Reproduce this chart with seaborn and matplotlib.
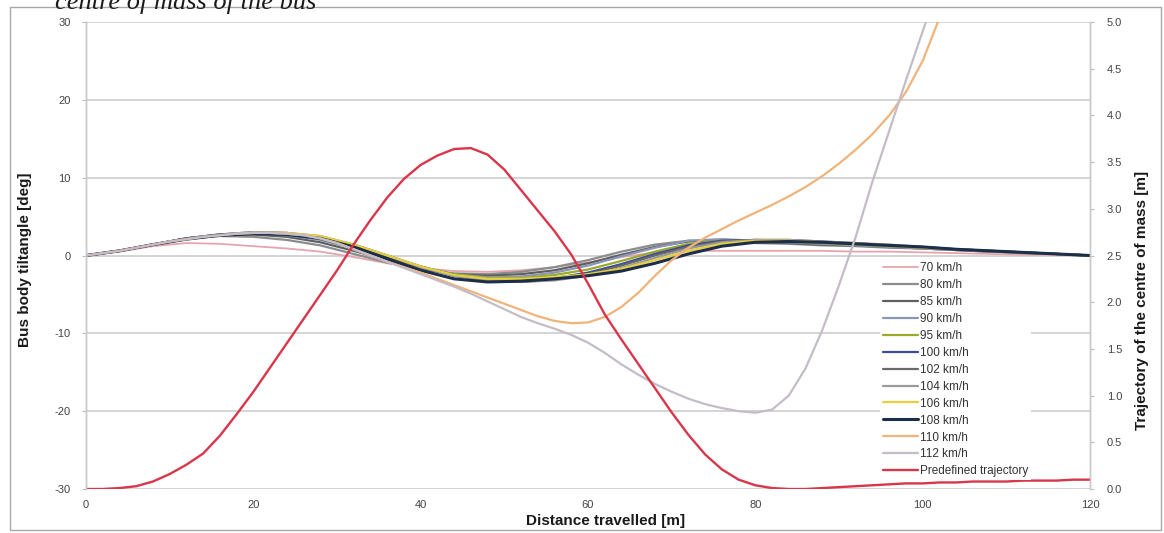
import matplotlib
matplotlib.use("Agg")
import matplotlib.pyplot as plt
from matplotlib.patches import Rectangle
import numpy as np
import pandas as pd
import seaborn as sns

# ---------------------------------------------------------------- data
# distance grids [m]
dist_4 = list(range(0, 121, 4))
dist_2 = list(range(0, 121, 2))

# bus body tilt angle [deg] for each speed (4 m grid)
tilt_70 = [0, 0.5, 1.2, 1.6, 1.5, 1.2, 0.9, 0.5, -0.2, -1.0, -1.6, -2.0, -2.1, -1.9, -1.5, -0.9,
           -0.2, 0.4, 0.6, 0.6, 0.6, 0.6, 0.6, 0.5, 0.5, 0.4, 0.3, 0.2, 0.1, 0.1, 0.0]
tilt_80 = [0, 0.6, 1.4, 2.2, 2.5, 2.4, 2.0, 1.3, 0.2, -0.9, -1.8, -2.3, -2.4, -2.1, -1.5, -0.6,
           0.5, 1.4, 1.9, 1.8, 1.6, 1.5, 1.3, 1.2, 1.0, 0.9, 0.7, 0.5, 0.3, 0.2, 0.0]
tilt_85 = [0, 0.6, 1.4, 2.2, 2.6, 2.7, 2.4, 1.7, 0.6, -0.6, -1.7, -2.4, -2.6, -2.4, -1.9, -1.0,
           0.1, 1.1, 1.8, 1.9, 1.8, 1.6, 1.4, 1.3, 1.1, 0.9, 0.7, 0.5, 0.4, 0.2, 0.0]
tilt_90 = [0, 0.6, 1.4, 2.2, 2.7, 2.8, 2.6, 2.0, 0.9, -0.4, -1.6, -2.4, -2.8, -2.7, -2.2, -1.3,
           -0.1, 1.0, 1.9, 2.1, 1.9, 1.7, 1.5, 1.3, 1.1, 0.9, 0.7, 0.5, 0.4, 0.2, 0.0]
tilt_95 = [0, 0.6, 1.4, 2.2, 2.7, 2.9, 2.8, 2.3, 1.2, -0.2, -1.5, -2.4, -2.9, -2.9, -2.5, -1.8,
           -0.7, 0.5, 1.5, 1.9, 1.9, 1.8, 1.6, 1.4, 1.2, 1.0, 0.8, 0.6, 0.4, 0.2, 0.0]
tilt_100 = [0, 0.6, 1.4, 2.2, 2.7, 2.9, 2.8, 2.4, 1.4, 0.0, -1.4, -2.5, -3.1, -3.2, -2.9, -2.2,
            -1.1, 0.2, 1.3, 1.9, 2.0, 1.9, 1.7, 1.5, 1.3, 1.0, 0.8, 0.6, 0.4, 0.2, 0.0]
tilt_102 = [0, 0.6, 1.4, 2.2, 2.7, 3.0, 2.9, 2.4, 1.3, -0.1, -1.5, -2.6, -3.2, -3.4, -3.1, -2.4,
            -1.3, 0.0, 1.1, 1.8, 2.0, 2.0, 1.8, 1.6, 1.3, 1.1, 0.8, 0.6, 0.4, 0.2, 0.0]
tilt_104 = [0, 0.6, 1.4, 2.2, 2.7, 3.0, 2.9, 2.5, 1.4, 0.0, -1.5, -2.6, -3.2, -3.4, -3.2, -2.6,
            -1.6, -0.3, 0.9, 1.7, 2.0, 2.0, 1.8, 1.6, 1.4, 1.1, 0.8, 0.6, 0.4, 0.2, 0.0]
tilt_106 = [0, 0.6, 1.4, 2.1, 2.6, 2.9, 2.9, 2.5, 1.4, 0.0, -1.4, -2.5, -3.0, -3.0, -2.8, -2.4,
            -1.7, -0.6, 0.6, 1.5, 1.9, 1.9, 1.7, 1.5, 1.3, 1.0, 0.8, 0.6, 0.4, 0.2, 0.0]
tilt_108 = [0, 0.6, 1.4, 2.1, 2.6, 2.8, 2.7, 2.2, 1.1, -0.4, -1.9, -3.0, -3.4, -3.3, -3.0, -2.6,
            -2.0, -1.0, 0.2, 1.2, 1.7, 1.8, 1.7, 1.5, 1.3, 1.1, 0.8, 0.6, 0.4, 0.2, 0.0]

# the two roll-over speeds (2 m grid)
tilt_110 = [0, 0.3, 0.6, 1.0, 1.4, 1.8, 2.1, 2.4, 2.6, 2.8, 2.9, 2.9, 2.8, 2.6, 2.2, 1.6,
            0.8, 0.0, -0.8, -1.5, -2.2, -3.0, -3.8, -4.6, -5.4, -6.2, -7.0, -7.8, -8.4, -8.7,
            -8.6, -7.9, -6.6, -4.8, -2.6, -0.6, 1.0, 2.3, 3.4, 4.5, 5.5, 6.5, 7.6, 8.8, 10.2,
            11.8, 13.6, 15.6, 18.0, 21.0, 25.0, 30.5, 37.0, 45.0, 54.0, 64.0, 75.0, 87.0,
            100.0, 114.0, 129.0]
tilt_112 = [0, 0.3, 0.6, 1.0, 1.4, 1.8, 2.1, 2.4, 2.6, 2.8, 2.9, 2.9, 2.8, 2.6, 2.2, 1.6,
            0.8, 0.0, -0.8, -1.6, -2.4, -3.2, -4.0, -4.9, -5.9, -6.9, -7.9, -8.7, -9.4, -10.2,
            -11.2, -12.5, -14.0, -15.3, -16.5, -17.5, -18.4, -19.1, -19.6, -20.0, -20.2, -19.8,
            -18.0, -14.5, -9.6, -3.8, 2.4, 9.5, 16.0, 22.5, 28.8, 35.0, 41.5, 48.0, 55.0, 62.0,
            69.0, 76.0, 83.0, 90.0, 97.0]

# predefined trajectory of the centre of mass [m] (2 m grid)
trajectory = [0.00, 0.00, 0.01, 0.03, 0.08, 0.16, 0.26, 0.38, 0.57, 0.80, 1.04, 1.30, 1.56,
              1.82, 2.08, 2.34, 2.62, 2.88, 3.12, 3.32, 3.47, 3.57, 3.64, 3.65, 3.58, 3.42,
              3.20, 2.98, 2.76, 2.51, 2.20, 1.87, 1.60, 1.34, 1.08, 0.82, 0.58, 0.37, 0.21,
              0.10, 0.04, 0.01, 0.00, 0.00, 0.01, 0.02, 0.03, 0.04, 0.05, 0.06, 0.06, 0.07,
              0.07, 0.08, 0.08, 0.08, 0.09, 0.09, 0.09, 0.10, 0.10]

speed_labels = ["70 km/h", "80 km/h", "85 km/h", "90 km/h", "95 km/h", "100 km/h", "102 km/h",
                "104 km/h", "106 km/h", "108 km/h", "110 km/h", "112 km/h"]
trajectory_label = "Predefined trajectory"

left_ticks = [-30, -20, -10, 0, 10, 20, 30]
right_ticks = [0.0, 0.5, 1.0, 1.5, 2.0, 2.5, 3.0, 3.5, 4.0, 4.5, 5.0]
x_ticks = [0, 20, 40, 60, 80, 100, 120]

# ---------------------------------------------------------------- styling
series = [
    (speed_labels[0], dist_4, tilt_70, "#e6a4ae", 1.3),
    (speed_labels[1], dist_4, tilt_80, "#8c8c8c", 1.6),
    (speed_labels[2], dist_4, tilt_85, "#5f5f5f", 1.6),
    (speed_labels[3], dist_4, tilt_90, "#8a96b8", 1.6),
    (speed_labels[4], dist_4, tilt_95, "#9aaa2a", 1.6),
    (speed_labels[5], dist_4, tilt_100, "#3c4c96", 1.6),
    (speed_labels[6], dist_4, tilt_102, "#6a6a6a", 1.6),
    (speed_labels[7], dist_4, tilt_104, "#9a9a9a", 1.6),
    (speed_labels[8], dist_4, tilt_106, "#e6cf3c", 1.6),
    (speed_labels[9], dist_4, tilt_108, "#1c2e4a", 2.2),
    (speed_labels[10], dist_2, tilt_110, "#f0b47a", 1.6),
    (speed_labels[11], dist_2, tilt_112, "#c4bcc8", 1.6),
]
traj_color = "#d8364a"

sns.set_theme(style="white")
plt.rcParams["font.family"] = ["Liberation Sans", "DejaVu Sans"]
plt.rcParams["axes.unicode_minus"] = False

fig = plt.figure(figsize=(11.64, 5.33), dpi=100)
ax = fig.add_axes([86 / 1164, 1 - 489 / 533, 1004 / 1164, 467 / 533])
ax2 = ax.twinx()

frames = []
for label, d, v, _, _ in series:
    frames.append(pd.DataFrame({"distance": d, "tilt": v, "speed": label}))
tilt_df = pd.concat(frames, ignore_index=True)

for label, _, _, color, lw in series:
    sns.lineplot(data=tilt_df[tilt_df["speed"] == label], x="distance", y="tilt",
                 color=color, linewidth=lw, sort=False, estimator=None, ax=ax,
                 label=label, legend=False)

traj_df = pd.DataFrame({"distance": dist_2, "trajectory": trajectory})
sns.lineplot(data=traj_df, x="distance", y="trajectory", color=traj_color, linewidth=1.7,
             sort=False, estimator=None, ax=ax2, label=trajectory_label, legend=False)

# axes ranges and ticks
ax.set_xlim(0, 120)
ax.set_ylim(-30, 30)
ax2.set_ylim(0, 5)
ax.set_xticks(x_ticks)
ax.set_yticks(left_ticks)
ax2.set_yticks(right_ticks)
ax2.set_yticklabels([f"{t:.1f}" for t in right_ticks])

tick_kw = dict(labelsize=8, labelcolor="#444444", color="#bdbdbd", length=3, width=0.8)
ax.tick_params(axis="both", **tick_kw)
ax2.tick_params(axis="y", **tick_kw)
ax.tick_params(axis="y", pad=8)
ax2.tick_params(axis="y", pad=9)
ax.tick_params(axis="x", pad=5)

ax.grid(axis="y", color="#d4d4d4", linewidth=1.4)
ax.grid(axis="x", visible=False)
ax2.grid(False)
for a in (ax, ax2):
    for side in ("top", "bottom"):
        a.spines[side].set_visible(False)
    for side in ("left", "right"):
        a.spines[side].set_color("#c8c8c8")
        a.spines[side].set_linewidth(1.0)

label_kw = dict(fontsize=11, fontweight="bold", color="#1a1a1a")
ax.set_xlabel("Distance travelled [m]", **label_kw)
ax.xaxis.set_label_coords((606 - 86) / 1004, -(514 - 489) / 467)
ax.set_ylabel("Bus body tiltangle [deg]", **label_kw)
ax.yaxis.set_label_coords(-(86 - 32) / 1004, (489 - 260) / 467)
ax2.set_ylabel("Trajectory of the centre of mass [m]", rotation=90, **label_kw)
ax2.yaxis.set_label_coords(1 + (1135 - 1090) / 1004, (489 - 300) / 467)

# legend combining both axes
h1, l1 = ax.get_legend_handles_labels()
h2, l2 = ax2.get_legend_handles_labels()
leg = ax2.legend(h1 + h2, l1 + l2, loc="upper left",
                 bbox_to_anchor=((880 - 86) / 1004, (489 - 259) / 467),
                 fontsize=8.5, frameon=True, facecolor="white", edgecolor="none",
                 framealpha=1.0, fancybox=False, labelspacing=0.42, handlelength=3.0,
                 handletextpad=0.15, borderpad=0.25, borderaxespad=0)
for t in leg.get_texts():
    t.set_color("#333333")

# caption above the chart frame
fig.text(55 / 1164, 1 - 9 / 533, "centre of mass of the bus", fontsize=19,
         style="italic", family=["Liberation Serif", "DejaVu Serif"], color="#1a1a1a",
         va="baseline", ha="left")

# outer chart frame
fig.patches.append(Rectangle((10 / 1164, 3 / 533), 1151 / 1164, 523 / 533,
                             transform=fig.transFigure, fill=False,
                             edgecolor="#a8a8a8", linewidth=1.0))

fig.savefig("out.png", dpi=100)
